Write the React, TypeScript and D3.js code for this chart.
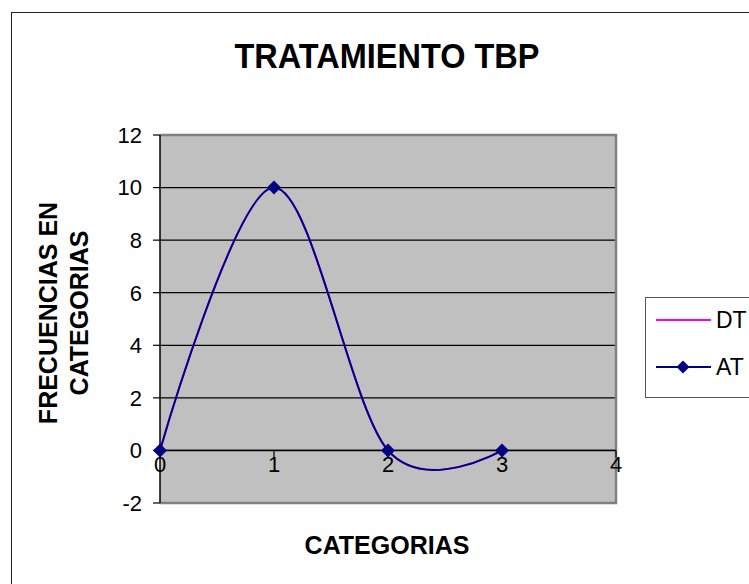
import React from "react";
import * as d3 from "d3";

const categories = [0, 1, 2, 3];
const seriesAT = [0, 10, 0, 0];
const seriesDT = [0, 10, 0, 0];
const yTicks = [-2, 0, 2, 4, 6, 8, 10, 12];
const xTicks = [0, 1, 2, 3, 4];
const legendNames = ["DT", "AT"];
const title = "TRATAMIENTO TBP";
const xTitle = "CATEGORIAS";
const yTitleLines = ["FRECUENCIAS EN", "CATEGORIAS"];

const W = 749;
const H = 584;
const FONT = "Arial, 'Liberation Sans', sans-serif";

export default function App() {
  const left = 160, right = 616, top = 135, bottom = 503;
  const x = d3.scaleLinear().domain([0, 4]).range([left, right]);
  const y = d3.scaleLinear().domain([-2, 12]).range([bottom, top]);
  const line = d3
    .line<number>()
    .x((_, i) => x(categories[i]))
    .y((d) => y(d))
    .curve(d3.curveCatmullRom.alpha(0));

  const diamond = (cx: number, cy: number, r: number) =>
    `M${cx},${cy - r}L${cx + r},${cy}L${cx},${cy + r}L${cx - r},${cy}Z`;

  const legX = 645, legTop = 297, legBottom = 397;
  const rowY = [320, 367];

  return (
    <svg width={W} height={H} style={{ position: "absolute", left: 0, top: 0 }}>
      <rect x={0} y={0} width={W} height={H} fill="#fff" />
      <rect x={11.5} y={12.5} width={800} height={700} fill="#fff" stroke="#222" strokeWidth={1} />
      <text
        x={387}
        y={68}
        textAnchor="middle"
        fontFamily={FONT}
        fontWeight="bold"
        fontSize={35}
        textLength={305}
        lengthAdjust="spacingAndGlyphs"
      >
        {title}
      </text>

      {/* plot area */}
      <rect x={left} y={top} width={right - left} height={bottom - top} fill="#C0C0C0" />
      {yTicks.filter((t) => t > -2 && t < 12).map((t) => (
        <line key={t} x1={left} x2={right} y1={y(t)} y2={y(t)} stroke="#000" strokeWidth={1.2} />
      ))}
      <path
        d={`M${left},${top}H${right}V${bottom}H${left}`}
        fill="none"
        stroke="#808080"
        strokeWidth={2.5}
      />
      {/* y axis */}
      <line x1={left} x2={left} y1={top} y2={bottom} stroke="#000" strokeWidth={1.5} />
      {yTicks.map((t) => (
        <g key={t}>
          <line x1={left - 7} x2={left} y1={y(t)} y2={y(t)} stroke="#000" strokeWidth={1.2} />
          <text
            x={left - 18}
            y={y(t)}
            dy="0.36em"
            textAnchor="end"
            fontFamily={FONT}
            fontSize={22}
          >
            {t}
          </text>
        </g>
      ))}
      {/* x axis at 0 */}
      <line x1={left} x2={right} y1={y(0)} y2={y(0)} stroke="#000" strokeWidth={1.5} />
      {xTicks.map((t) => (
        <g key={t}>
          <line x1={x(t)} x2={x(t)} y1={y(0)} y2={y(0) + 7} stroke="#000" strokeWidth={1.2} />
          <text x={x(t)} y={y(0) + 22} textAnchor="middle" fontFamily={FONT} fontSize={22}>
            {t}
          </text>
        </g>
      ))}

      {/* series */}
      <path d={line(seriesDT) || ""} fill="none" stroke="#FF00FF" strokeWidth={2} />
      <path d={line(seriesAT) || ""} fill="none" stroke="#000080" strokeWidth={2} />
      {seriesAT.map((v, i) => (
        <path key={i} d={diamond(x(categories[i]), y(v), 7)} fill="#000080" />
      ))}

      {/* axis titles */}
      <text x={387} y={554} textAnchor="middle" fontFamily={FONT} fontWeight="bold" fontSize={25}>
        {xTitle}
      </text>
      {yTitleLines.map((s, i) => (
        <text
          key={s}
          transform={`translate(${57 + i * 31},${313}) rotate(-90)`}
          textAnchor="middle"
          fontFamily={FONT}
          fontWeight="bold"
          fontSize={25}
        >
          {s}
        </text>
      ))}

      {/* legend */}
      <rect x={legX + 0.5} y={legTop + 0.5} width={200} height={legBottom - legTop} fill="#fff" stroke="#555" strokeWidth={1} />
      <line x1={656} x2={711} y1={rowY[0]} y2={rowY[0]} stroke="#FF00FF" strokeWidth={2} />
      <line x1={656} x2={711} y1={rowY[1]} y2={rowY[1]} stroke="#000080" strokeWidth={2} />
      <path d={diamond(683, rowY[1], 6.5)} fill="#000080" />
      {legendNames.map((n, i) => (
        <text key={n} x={716} y={rowY[i]} dy="0.36em" fontFamily={FONT} fontSize={23}>
          {n}
        </text>
      ))}
    </svg>
  );
}
